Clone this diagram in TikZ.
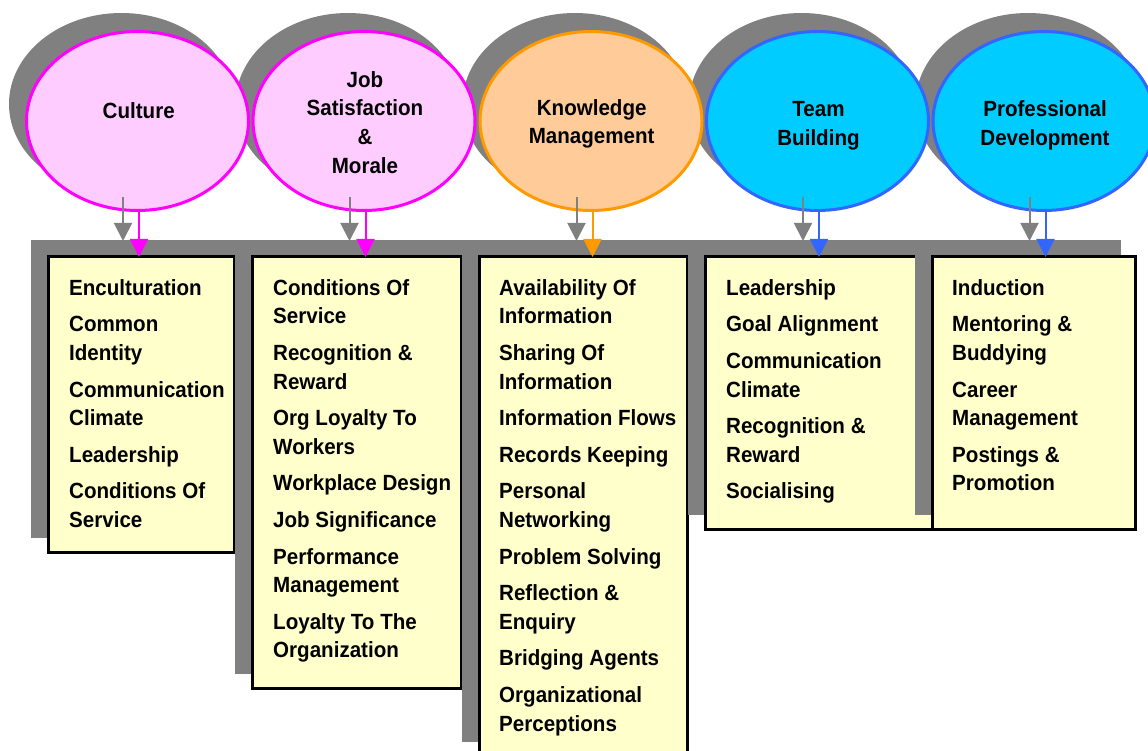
\documentclass[tikz,border=0pt]{standalone}
\usepackage{fontspec}
\newfontfamily\lbl[FakeStretch=0.935]{Liberation Sans}
\usetikzlibrary{shapes.geometric,arrows.meta,calc}

\definecolor{shadowgray}{HTML}{808080}
\definecolor{pinkfill}{HTML}{FFCCFF}
\definecolor{pinkline}{HTML}{FF00FF}
\definecolor{orangefill}{HTML}{FFCC99}
\definecolor{orangeline}{HTML}{FF9900}
\definecolor{cyanfill}{HTML}{00CCFF}
\definecolor{blueline}{HTML}{3366FF}
\definecolor{notefill}{HTML}{FFFFCC}

\tikzset{
  bubble/.style={ellipse, minimum width=222pt, minimum height=179pt,
    inner sep=0pt, outer sep=0pt, line width=3pt},
  bubbleshadow/.style={ellipse, minimum width=225pt, minimum height=182pt,
    inner sep=0pt, outer sep=0pt, fill=shadowgray},
  title/.style={font=\lbl\bfseries\fontsize{22}{28.8}\selectfont,
    align=center, anchor=north, inner sep=0pt},
  listbox/.style={rectangle, draw=black, fill=notefill, line width=3pt,
    inner sep=0pt, outer sep=0pt, anchor=north west},
  boxshadow/.style={rectangle, fill=shadowgray, inner sep=0pt, outer sep=0pt,
    anchor=north west},
  listtext/.style={font=\lbl\bfseries\fontsize{22}{28.6}\selectfont,
    align=left, anchor=north west, inner sep=0pt},
  linkarrow/.style={line width=2pt, -{Triangle[width=18pt,length=18pt]}},
  shadowarrow/.style={linkarrow, draw=shadowgray, fill=shadowgray},
}

\begin{document}
\begin{tikzpicture}[x=1pt,y=-1pt]
\useasboundingbox (0,0) rectangle (1148,751);
\clip (0,0) rectangle (1148,751);

% shadows of the five topic bubbles
\node[bubbleshadow] (es1) at (121.5,104) {};
\node[bubbleshadow] (es2) at (348,104) {};
\node[bubbleshadow] (es3) at (575,104) {};
\node[bubbleshadow] (es4) at (801.5,104) {};
\node[bubbleshadow] (es5) at (1028,104) {};

% topic bubbles
\node[bubble, fill=pinkfill, draw=pinkline] (e1) at (137.5,121) {};
\node[bubble, fill=pinkfill, draw=pinkline] (e2) at (364,121) {};
\node[bubble, fill=orangefill, draw=orangeline] (e3) at (591,121) {};
\node[bubble, fill=cyanfill, draw=blueline] (e4) at (817.5,121) {};
\node[bubble, fill=cyanfill, draw=blueline] (e5) at (1044,121) {};

% bubble titles
\node[title] (t1) at (138.7,97.8) {\strut Culture};
\node[title] (t2) at (365,66.8) {\strut Job\\Satisfaction\\\&\\Morale};
\node[title] (t3) at (591.7,94.8) {\strut Knowledge\\Management};
\node[title] (t4) at (818.5,96.5) {\strut Team\\Building};
\node[title] (t5) at (1045,96.5) {\strut Professional\\Development};

% grey band behind the tops of the lists
\fill[shadowgray] (31,240) rectangle (1121,256);

% lists with their drop shadows, left to right
\node[boxshadow, minimum width=189pt, minimum height=298pt] (s1) at (31,240) {};
\node[listbox, minimum width=186pt, minimum height=295pt] (b1) at (48,257) {};
\node[boxshadow, minimum width=212pt, minimum height=434pt] (s2) at (235,240) {};
\node[listbox, minimum width=209pt, minimum height=431pt] (b2) at (252,257) {};
\node[boxshadow, minimum width=211pt, minimum height=502pt] (s3) at (462,240) {};
\node[listbox, minimum width=208pt, minimum height=499pt] (b3) at (479,257) {};
\node[boxshadow, minimum width=230pt, minimum height=275pt] (s4) at (688,240) {};
\node[listbox, minimum width=227pt, minimum height=272pt] (b4) at (705,257) {};
\node[boxshadow, minimum width=206pt, minimum height=275pt] (s5) at (915,240) {};
\node[listbox, minimum width=203pt, minimum height=272pt] (b5) at (932,257) {};

% list contents
\node[listtext] (l1) at (69,275) {\strut Enculturation\\[8pt]
  Common\\Identity\\[8pt]
  Communication\\Climate\\[8pt]
  Leadership\\[8pt]
  Conditions Of\\Service};
\node[listtext] (l2) at (273,275) {\strut Conditions Of\\Service\\[8pt]
  Recognition \&\\Reward\\[8pt]
  Org Loyalty To\\Workers\\[8pt]
  Workplace Design\\[8pt]
  Job Significance\\[8pt]
  Performance\\Management\\[8pt]
  Loyalty To The\\Organization};
\node[listtext] (l3) at (499,275) {\strut Availability Of\\Information\\[8pt]
  Sharing Of\\Information\\[8pt]
  Information Flows\\[8pt]
  Records Keeping\\[8pt]
  Personal\\Networking\\[8pt]
  Problem Solving\\[8pt]
  Reflection \&\\Enquiry\\[8pt]
  Bridging Agents\\[8pt]
  Organizational\\Perceptions};
\node[listtext] (l4) at (726,275) {\strut Leadership\\[8pt]
  Goal Alignment\\[8pt]
  Communication\\Climate\\[8pt]
  Recognition \&\\Reward\\[8pt]
  Socialising};
\node[listtext] (l5) at (952,275) {\strut Induction\\[8pt]
  Mentoring \&\\Buddying\\[8pt]
  Career\\Management\\[8pt]
  Postings \&\\Promotion};

% arrows from each bubble to its list, each with a grey shadow arrow
\foreach \i/\c in {1/pinkline,2/pinkline,3/orangeline,4/blueline,5/blueline}{
  \draw[shadowarrow] ($(e\i.south)+(-14.5,-13.5)$) -- ($(e\i.south |- b\i.north)+(-14.5,-16)$);
  \draw[linkarrow, draw=\c, fill=\c] ($(e\i.south)+(1.5,0)$) -- ($(e\i.south |- b\i.north)+(1.5,0)$);
}
\end{tikzpicture}
\end{document}
